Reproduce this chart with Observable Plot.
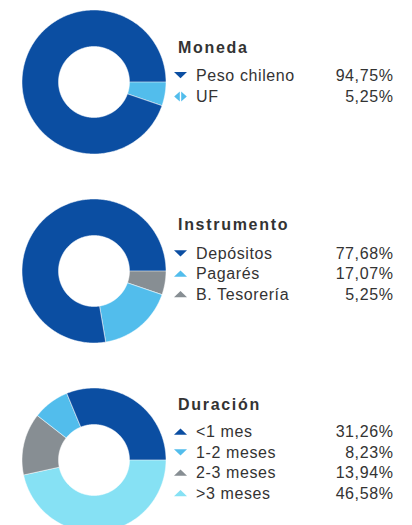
<!DOCTYPE html>
<html><head><meta charset="utf-8">
<script src="https://cdn.jsdelivr.net/npm/d3@7"></script>
<script src="https://cdn.jsdelivr.net/npm/@observablehq/plot@0.6"></script>
<style>
html,body{margin:0;padding:0;background:#fff;overflow:hidden}
svg text{font-family:"Liberation Sans", Arial, sans-serif}
</style></head><body><div id="chart"></div>
<script>
// ---- data ----
const groupTitles = ["Moneda", "Instrumento", "Duración"];

const monedaLabels = ["Peso chileno", "UF"];
const monedaValues = [94.75, 5.25];
const monedaColors = ["#0b4ea2", "#52bdec"];
const monedaMarkers = ["down", "split"];

const instrumentoLabels = ["Depósitos", "Pagarés", "B. Tesorería"];
const instrumentoValues = [77.68, 17.07, 5.25];
const instrumentoColors = ["#0b4ea2", "#52bdec", "#878e93"];
const instrumentoMarkers = ["down", "up", "up"];

const duracionLabels = ["<1 mes", "1-2 meses", "2-3 meses", ">3 meses"];
const duracionValues = [31.26, 8.23, 13.94, 46.58];
const duracionColors = ["#0b4ea2", "#52bdec", "#878e93", "#86e1f4"];
const duracionMarkers = ["up", "down", "up", "up"];

// ---- layout ----
const W = 412, H = 525;
const cx = 93.5, R = 72, r0 = 35.5;
const layout = [
  {cy: 81.5, titleY: 52, rowY: 80, step: 21.5},
  {cy: 270.5, titleY: 229.3, rowY: 258.3, step: 20.5},
  {cy: 459.5, titleY: 409.3, rowY: 436.7, step: 20.5}
];
const markerX = 180, textX = 195.5, valueX = 393;

const groups = [
  {labels: monedaLabels, values: monedaValues, colors: monedaColors, markers: monedaMarkers},
  {labels: instrumentoLabels, values: instrumentoValues, colors: instrumentoColors, markers: instrumentoMarkers},
  {labels: duracionLabels, values: duracionValues, colors: duracionColors, markers: duracionMarkers}
];

const slicePts = [], rows = [], titles = [];
groups.forEach((g, gi) => {
  const L = layout[gi];
  titles.push({text: groupTitles[gi], x: 177.5, y: L.titleY});
  const total = d3.sum(g.values);
  let acc = 0;
  g.values.forEach((v, i) => {
    const a0 = acc / total * 2 * Math.PI, a1 = (acc + v) / total * 2 * Math.PI;
    acc += v;
    const n = Math.max(2, Math.ceil((a1 - a0) / (Math.PI / 180)));
    const key = gi + "-" + i;
    for (let k = 0; k <= n; k++) {
      const a = a0 + (a1 - a0) * k / n;
      slicePts.push({key, color: g.colors[i], x: cx + R * Math.cos(a), y: L.cy - R * Math.sin(a)});
    }
    for (let k = n; k >= 0; k--) {
      const a = a0 + (a1 - a0) * k / n;
      slicePts.push({key, color: g.colors[i], x: cx + r0 * Math.cos(a), y: L.cy - r0 * Math.sin(a)});
    }
    rows.push({
      label: g.labels[i],
      value: v.toFixed(2).replace(".", ",") + "%",
      color: g.colors[i],
      marker: g.markers[i],
      y: L.rowY + i * L.step
    });
  });
});

// custom flat legend symbols
const symDown = {draw(ctx) {
  ctx.moveTo(-6.5, -3); ctx.lineTo(6.5, -3); ctx.lineTo(0, 3.2); ctx.closePath(); }};
const symUp = {draw(ctx) {
  ctx.moveTo(-6.5, 3); ctx.lineTo(6.5, 3); ctx.lineTo(0, -3.2); ctx.closePath(); }};
const symSplit = {draw(ctx) {
  ctx.moveTo(-0.7, -5); ctx.lineTo(-0.7, 5); ctx.lineTo(-6.3, 0); ctx.closePath();
  ctx.moveTo(0.7, -5); ctx.lineTo(0.7, 5); ctx.lineTo(6.3, 0); ctx.closePath(); }};
const symbols = {down: symDown, up: symUp, split: symSplit};

const font = "Liberation Sans, Arial, sans-serif";
const chart = Plot.plot({
  width: W, height: H,
  marginTop: 0, marginRight: 0, marginBottom: 0, marginLeft: 0,
  x: {domain: [0, W], range: [0, W], axis: null},
  y: {domain: [0, H], range: [0, H], axis: null},
  color: {type: "identity"},
  style: {background: "white", overflow: "hidden", letterSpacing: "0.6px"},
  marks: [
    Plot.line(slicePts, {x: "x", y: "y", z: "key", fill: "color", stroke: "#ffffff", strokeWidth: 0.5, curve: "linear-closed"}),
    ...Object.keys(symbols).map(k =>
      Plot.dot(rows.filter(d => d.marker === k), {x: () => markerX, y: d => d.y - 5.5, fill: "color", r: 6, symbol: symbols[k], stroke: null})
    ),
    Plot.text(titles, {x: "x", y: "y", text: "text", textAnchor: "start", lineAnchor: "bottom", fontSize: 16, fontWeight: "bold", fontFamily: font, fill: "#333333"}),
    Plot.text(rows, {x: () => textX, y: "y", text: "label", textAnchor: "start", lineAnchor: "bottom", fontSize: 16, fontFamily: font, fill: "#333333"}),
    Plot.text(rows, {x: () => valueX, y: "y", text: "value", textAnchor: "end", lineAnchor: "bottom", fontSize: 16, fontFamily: font, fill: "#333333"})
  ]
});
// widen the bold group titles' letter spacing
d3.select(chart).selectAll("text").each(function() {
  if (groupTitles.includes(this.textContent)) this.style.letterSpacing = "1.7px";
  else this.style.letterSpacing = "0.6px";
});
document.getElementById("chart").appendChild(chart);
</script>
</body></html>
